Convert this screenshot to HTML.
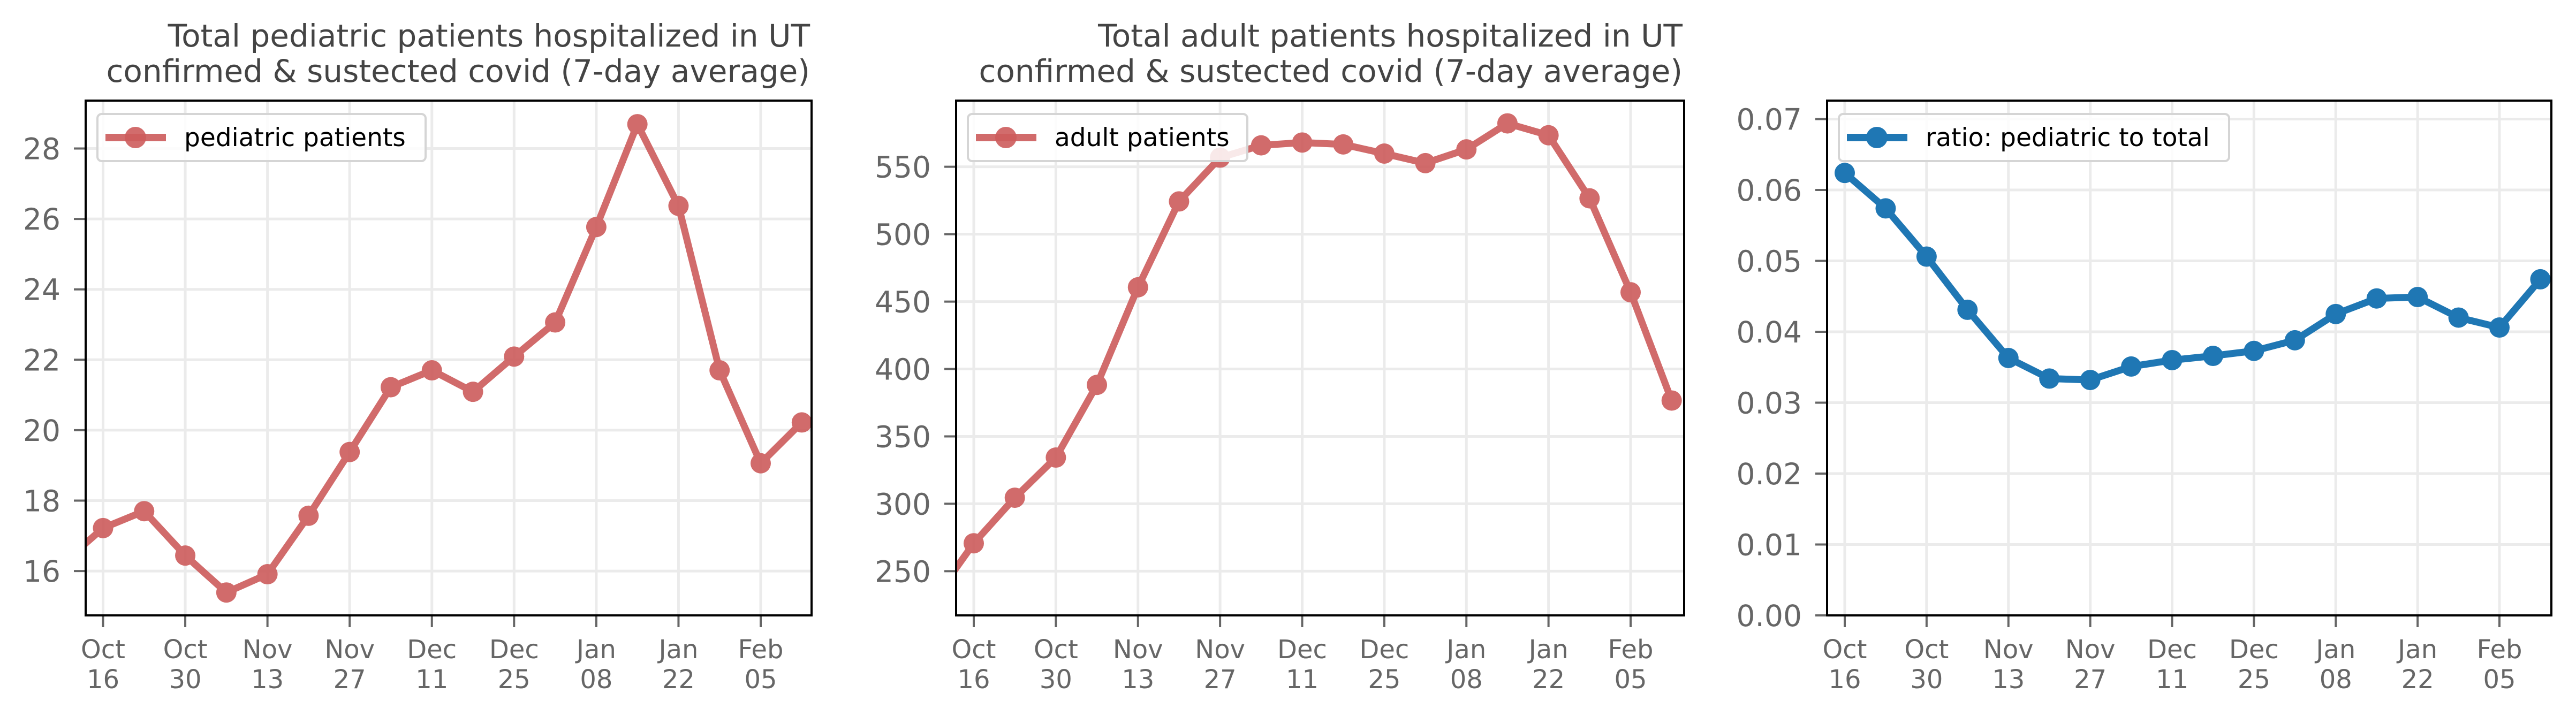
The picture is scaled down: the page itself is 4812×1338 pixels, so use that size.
<!DOCTYPE html>
<html><head><meta charset="utf-8"><style>
html,body{margin:0;padding:0;background:#fff;}
svg{display:block;font-family:"DejaVu Sans","Liberation Sans",sans-serif;}
</style></head><body>
<svg id="chart" width="4812" height="1338" viewBox="0 0 4812 1338" xmlns="http://www.w3.org/2000/svg"></svg>
<script>
// weekly dates as day offsets from Oct 16
const weekDays = [-7,0,7,14,21,28,35,42,49,56,63,70,77,84,91,98,105,112,119];
const pediatricValues = [16.2,17.22,17.70,16.44,15.39,15.91,17.57,19.38,21.22,21.70,21.09,22.09,23.06,25.77,28.69,26.37,21.70,19.06,20.22];
const adultValues = [228,270.7,304.5,334.3,388.2,460.6,524.3,556.8,565.9,568.0,566.6,559.8,552.7,562.9,582.2,573.4,526.6,456.9,376.6];
const ratioDays = [0,7,14,21,28,35,42,49,56,63,70,77,84,91,98,105,112,119];
const ratioValues = [0.0624,0.0574,0.0506,0.0431,0.0363,0.0334,0.0332,0.0351,0.0360,0.0366,0.0373,0.0388,0.0425,0.0447,0.0449,0.0420,0.0406,0.0474];
const xTickDays = [0,14,28,42,56,70,84,98,112];
const xTickMonth = ["Oct","Oct","Nov","Nov","Dec","Dec","Jan","Jan","Feb"];
const xTickDay = ["16","30","13","27","11","25","08","22","05"];
const pedTicks = [16,18,20,22,24,26,28];
const adultTicks = [250,300,350,400,450,500,550];
const ratioTicks = [0,0.01,0.02,0.03,0.04,0.05,0.06,0.07];

const NS="http://www.w3.org/2000/svg";
const svg=document.getElementById('chart');
function mk(tag,attrs,parent){const e=document.createElementNS(NS,tag);for(const k in attrs)e.setAttribute(k,attrs[k]);(parent||svg).appendChild(e);return e;}

const panels=[
 {id:'pediatric',L:160,R:1516,T:188,B:1150,ymin:14.74,ymax:29.36,ticks:pedTicks,fmt:v=>String(v),
  days:weekDays,vals:pediatricValues,color:'#cd5c5c',alpha:0.9,legend:'pediatric patients',legW:613,
  title:['Total pediatric patients hospitalized in UT','confirmed & sustected covid (7-day average)']},
 {id:'adult',L:1786,R:3146,T:188,B:1150,ymin:217.2,ymax:599.1,ticks:adultTicks,fmt:v=>String(v),
  days:weekDays,vals:adultValues,color:'#cd5c5c',alpha:0.9,legend:'adult patients',legW:522,
  title:['Total adult patients hospitalized in UT','confirmed & sustected covid (7-day average)']},
 {id:'ratio',L:3413,R:4766,T:188,B:1150,ymin:0,ymax:0.0726,ticks:ratioTicks,fmt:v=>v.toFixed(2),
  days:ratioDays,vals:ratioValues,color:'#1f77b4',alpha:1,legend:'ratio: pediatric to total',legW:729,title:null}
];
panels[0].xa=192.5;panels[0].xb=1421;
panels[1].xa=1819;panels[1].xb=3046;
panels[2].xa=3446;panels[2].xb=4669;

panels.forEach((p,pi)=>{
  const g=mk('g',{});
  
  
  const xs=d=>p.xa+(p.xb-p.xa)*d/112;
  const ys=v=>p.B-(v-p.ymin)/(p.ymax-p.ymin)*(p.B-p.T);
  const cp=mk('clipPath',{id:'clip'+pi},g);
  mk('rect',{x:p.L,y:p.T,width:p.R-p.L,height:p.B-p.T},cp);
  const grid=mk('g',{},g);
  
  
  xTickDays.forEach(d=>{mk('line',{x1:xs(d),x2:xs(d),y1:p.T,y2:p.B,stroke:'#ebebeb','stroke-width':5},grid);});
  p.ticks.forEach(v=>{mk('line',{x1:p.L,x2:p.R,y1:ys(v),y2:ys(v),stroke:'#ebebeb','stroke-width':5},grid);});
  const yax=mk('g',{},g);
  
  
  p.ticks.forEach(v=>{
    mk('line',{x1:p.L-22,x2:p.L,y1:ys(v),y2:ys(v),stroke:'#666','stroke-width':4},yax);
    const t=mk('text',{x:p.L-47,y:ys(v)+20,'text-anchor':'end','font-size':55,fill:'#666'},yax);
    t.textContent=p.fmt(v);
    
    
  });
  const xax=mk('g',{},g);
  
  
  xTickDays.forEach((d,i)=>{
    mk('line',{x1:xs(d),x2:xs(d),y1:p.B,y2:p.B+22,stroke:'#666','stroke-width':4},xax);
    const t=mk('text',{x:xs(d),y:1230,'text-anchor':'middle','font-size':48,fill:'#666'},xax);
    
    
    const a=mk('tspan',{x:xs(d)},t);a.textContent=xTickMonth[i];
    const b=mk('tspan',{x:xs(d),dy:56},t);b.textContent=xTickDay[i];
  });
  const s=mk('g',{'clip-path':'url(#clip'+pi+')',opacity:p.alpha},g);
  
  
  const pts=p.days.map((d,i)=>xs(d)+','+ys(p.vals[i])).join(' ');
  const pl=mk('polyline',{points:pts,fill:'none',stroke:p.color,'stroke-width':13,'stroke-linejoin':'round'},s);
  
  
  p.days.forEach((d,i)=>{
    const c=mk('circle',{cx:xs(d),cy:ys(p.vals[i]),r:19,fill:p.color},s);
    
    
  });
  const fr=mk('rect',{x:p.L,y:p.T,width:p.R-p.L,height:p.B-p.T,fill:'none',stroke:'#000','stroke-width':4},g);
  
  
  const lg=mk('g',{},g);
  
  
  const lx=p.L+22;
  mk('rect',{x:lx,y:213,width:p.legW,height:88,rx:8,fill:'#fff','fill-opacity':0.85,stroke:'#d5d5d5','stroke-width':4},lg);
  mk('line',{x1:lx+15,x2:lx+128,y1:257,y2:257,stroke:p.color,'stroke-width':14,opacity:p.alpha},lg);
  mk('circle',{cx:lx+71,cy:257,r:20,fill:p.color,opacity:p.alpha},lg);
  const lt=mk('text',{x:lx+162,y:273,'font-size':47,fill:'#000'},lg);
  lt.textContent=p.legend;
  if(p.title){
    p.title.forEach((line,i)=>{
      const t=mk('text',{x:p.R-3,y:87+i*66,'text-anchor':'end','font-size':58,fill:'#444'},g);
      t.textContent=line;
      
      
    });
  }
});
</script>
</body></html>
